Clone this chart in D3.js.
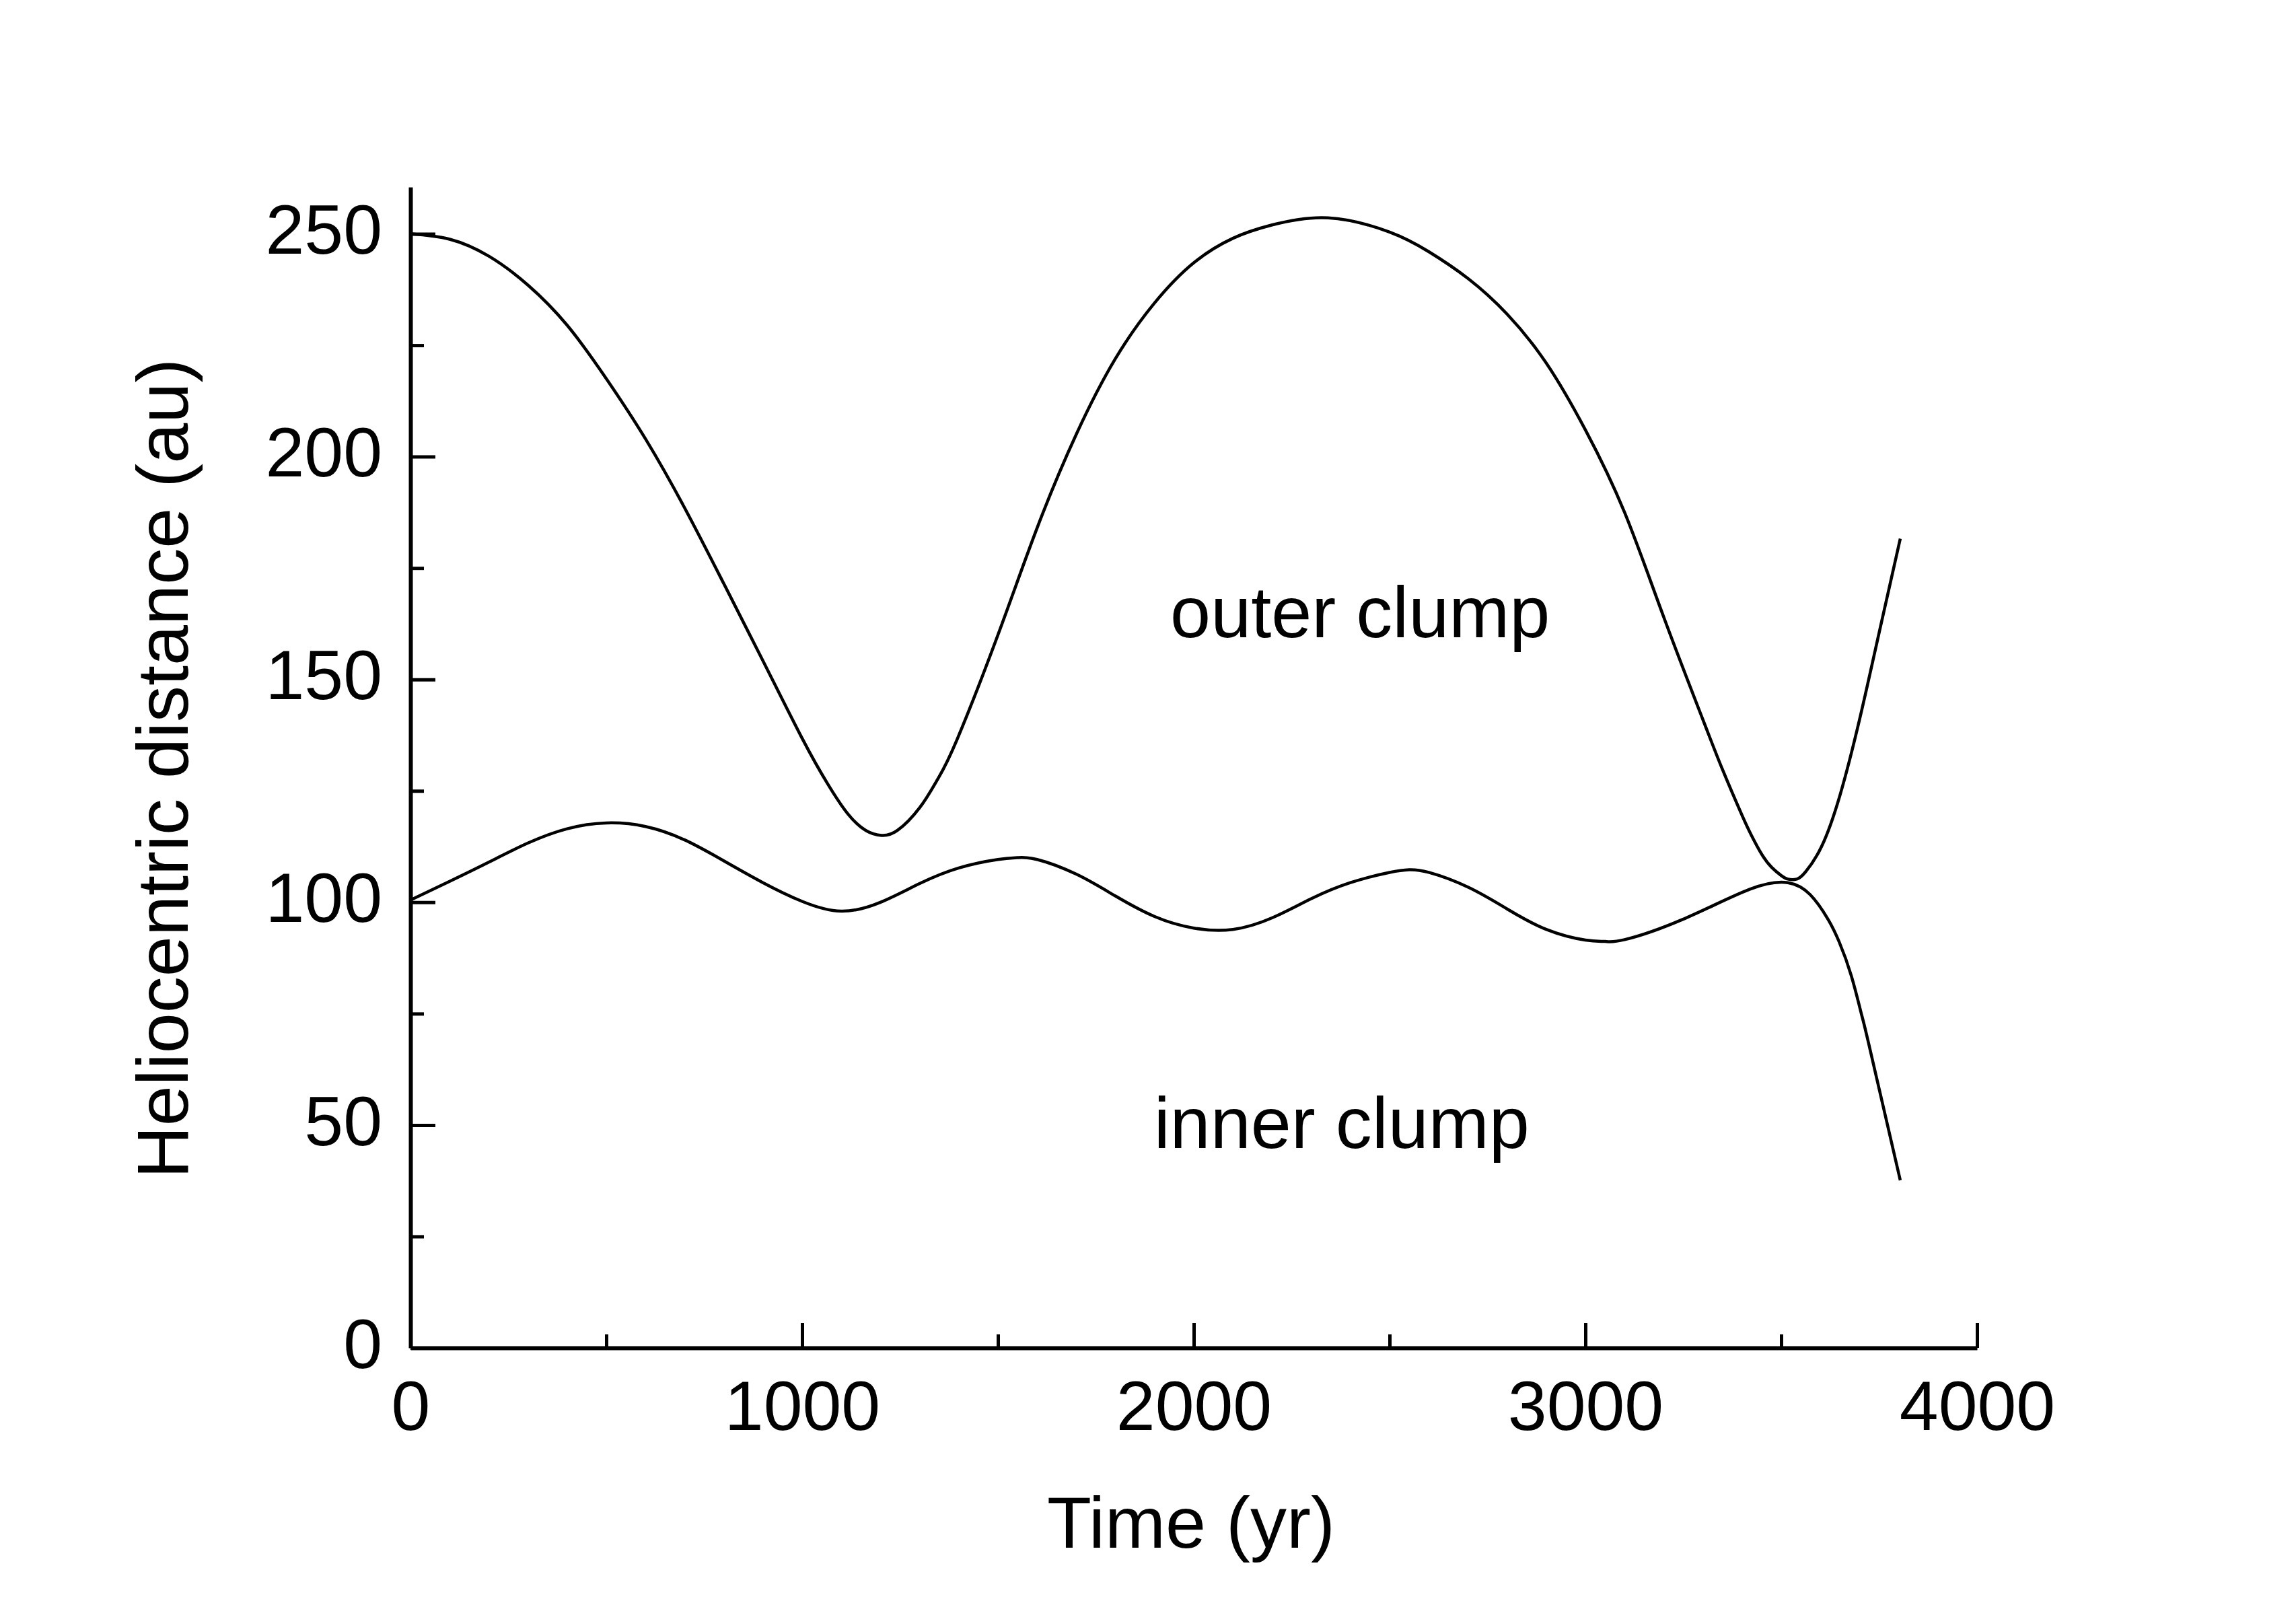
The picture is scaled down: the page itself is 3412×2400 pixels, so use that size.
<!DOCTYPE html>
<html>
<head>
<meta charset="utf-8">
<script src="https://cdn.jsdelivr.net/npm/d3@7"></script>
<style>
  html, body { margin: 0; padding: 0; background: #fff; }
  text { font-family: "Liberation Sans", Arial, sans-serif; fill: #000; }
</style>
</head>
<body>
<svg id="chart" width="3412" height="2400"></svg>
<script>
// ---- data ----
const outerTime = [0, 100, 200, 300, 400, 500, 600, 700, 800, 900, 1000, 1065, 1117, 1163, 1203, 1243, 1300, 1346, 1395, 1500, 1600, 1700, 1800, 1900, 2000, 2100, 2200, 2343, 2500, 2600, 2700, 2800, 2900, 3000, 3100, 3200, 3300, 3350, 3400, 3424, 3450, 3476, 3500, 3517, 3540, 3562, 3603, 3650, 3700, 3750, 3804];
const outerDist = [250, 248.8, 245, 238.5, 229.5, 217.5, 204, 188.5, 171.5, 154.2, 136.8, 126.6, 119.8, 116.1, 115, 116.1, 121.2, 127.6, 136.4, 160, 184, 205, 222, 234.5, 243.5, 249, 252, 253.6, 250.4, 246, 240, 232, 221, 206, 187.5, 164, 141, 129.8, 119.5, 115, 110.8, 107.8, 106, 105.2, 105.2, 106.8, 112.5, 124, 141, 160.5, 181.6];

const innerTime = [0, 100, 200, 300, 400, 500, 600, 700, 800, 900, 1000, 1100, 1200, 1300, 1400, 1500, 1550, 1600, 1700, 1800, 1900, 2000, 2100, 2200, 2300, 2400, 2500, 2550, 2600, 2700, 2800, 2900, 3000, 3050, 3100, 3247, 3419, 3517, 3574, 3620, 3648, 3679, 3706, 3723, 3804];
const innerDist = [100.5, 104.7, 109, 113.3, 116.5, 117.8, 117, 114, 109.3, 104.4, 100.2, 98, 100, 104.2, 107.7, 109.6, 110, 109.6, 106.3, 101.4, 96.8, 94.2, 93.9, 96.5, 100.8, 104.4, 106.7, 107.3, 106.7, 103.4, 98.5, 93.9, 91.5, 91.2, 91.6, 96.1, 102.9, 104.4, 101.7, 96.1, 91.1, 83.5, 74.5, 68.4, 37.6];

const xTicks = [0, 1000, 2000, 3000, 4000];
const xMinorTicks = [500, 1500, 2500, 3500];
const yTicks = [0, 50, 100, 150, 200, 250];
const yMinorTicks = [25, 75, 125, 175, 225];

const labels = ["outer clump", "inner clump"];
const labelPos = [{t: 1940, d: 159.5}, {t: 1898, d: 45}];
const xTitle = "Time (yr)";
const yTitle = "Heliocentric distance (au)";

// ---- layout ----
const svg = d3.select("#chart");
const x = d3.scaleLinear().domain([0, 4000]).range([610, 2938]);
const y = d3.scaleLinear().domain([0, 260.5]).range([2003, 278]);

const tickFont = 104;
const titleFont = 108;

// minor ticks
svg.append("g").attr("transform", `translate(0,${y(0)})`)
  .call(d3.axisBottom(x).tickValues(xMinorTicks).tickSize(-20).tickFormat(""))
  .call(g => g.select(".domain").remove())
  .call(g => g.selectAll("line").attr("stroke", "#000").attr("stroke-width", 5));
svg.append("g").attr("transform", `translate(${x(0)},0)`)
  .call(d3.axisLeft(y).tickValues(yMinorTicks).tickSize(-20).tickFormat(""))
  .call(g => g.select(".domain").remove())
  .call(g => g.selectAll("line").attr("stroke", "#000").attr("stroke-width", 5));

// major axes
const xAxis = svg.append("g").attr("transform", `translate(0,${y(0)})`)
  .call(d3.axisBottom(x).tickValues(xTicks).tickSize(-37).tickSizeOuter(0).tickPadding(48).tickFormat(d3.format("d")));
xAxis.select(".domain").attr("stroke", "#000").attr("stroke-width", 6);
xAxis.selectAll("line").attr("stroke", "#000").attr("stroke-width", 5);
xAxis.selectAll("text").attr("font-size", tickFont).attr("font-family", "Liberation Sans, Arial, sans-serif").attr("fill", "#000");

const yAxis = svg.append("g").attr("transform", `translate(${x(0)},0)`)
  .call(d3.axisLeft(y).tickValues(yTicks).tickSize(-37).tickSizeOuter(0).tickPadding(42).tickFormat(d3.format("d")));
yAxis.select(".domain").attr("stroke", "#000").attr("stroke-width", 6);
yAxis.selectAll("line").attr("stroke", "#000").attr("stroke-width", 5);
yAxis.selectAll("text").attr("font-size", tickFont).attr("dy", "0.28em").attr("font-family", "Liberation Sans, Arial, sans-serif").attr("fill", "#000");

// curves
const line = d3.line().x(d => x(d[0])).y(d => y(d[1])).curve(d3.curveNatural);
const outer = outerTime.map((t, i) => [t, outerDist[i]]);
const inner = innerTime.map((t, i) => [t, innerDist[i]]);
[outer, inner].forEach(s => {
  svg.append("path").datum(s).attr("d", line)
    .attr("fill", "none").attr("stroke", "#000").attr("stroke-width", 4.5)
    .attr("stroke-linejoin", "round");
});

// annotations
svg.append("text").attr("x", x(labelPos[0].t)).attr("y", y(labelPos[0].d))
  .attr("font-size", titleFont).text(labels[0]);
svg.append("text").attr("x", x(labelPos[1].t)).attr("y", y(labelPos[1].d) + 1)
  .attr("font-size", titleFont).text(labels[1]);

// axis titles
svg.append("text").attr("x", 1770).attr("y", 2300).attr("text-anchor", "middle")
  .attr("font-size", titleFont).text(xTitle);
svg.append("text").attr("transform", "translate(279,1142) rotate(-90)")
  .attr("text-anchor", "middle").attr("font-size", titleFont).text(yTitle);
</script>
</body>
</html>
